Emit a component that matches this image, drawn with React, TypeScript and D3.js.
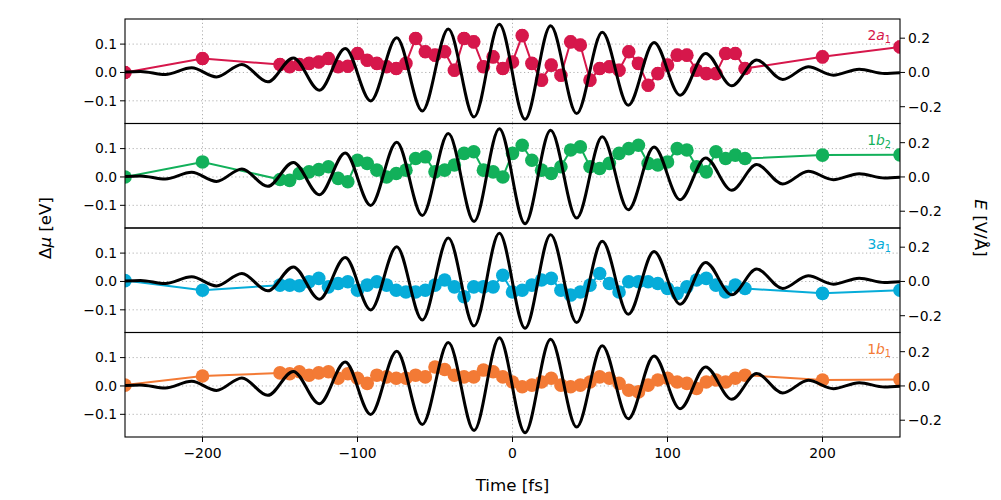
import React from "react";
import * as d3 from "d3";

// sample times [fs]: sparse wings, dense 6.25 fs grid in the pulse
const times = [
  -250, -200,
  -150, -143.75, -137.5, -131.25, -125, -118.75, -112.5, -106.25, -100, -93.75,
  -87.5, -81.25, -75, -68.75, -62.5, -56.25, -50, -43.75, -37.5, -31.25,
  -25, -18.75, -12.5, -6.25, 0, 6.25, 12.5, 18.75, 25, 31.25,
  37.5, 43.75, 50, 56.25, 62.5, 68.75, 75, 81.25, 87.5, 93.75,
  100, 106.25, 112.5, 118.75, 125, 131.25, 137.5, 143.75, 150,
  200, 250,
];

// Δμ [eV] per orbital
const mu2a1 = [
  0, 0.049,
  0.028, 0.02, 0.028, 0.032, 0.037, 0.049, 0.02, 0.022, 0.067, 0.043,
  0.032, 0.02, 0.014, 0.032, 0.12, 0.073, 0.061, 0.073, 0.008, 0.12,
  0.108, 0.02, 0.055, 0.014, 0.037, 0.13, 0.032, -0.027, 0.026, -0.01,
  0.108, 0.097, -0.027, 0.014, 0.02, 0.008, 0.073, 0.032, -0.045, -0.004,
  0.026, 0.061, 0.061, 0.008, -0.004, -0.004, 0.067, 0.067, 0.014,
  0.055, 0.09,
];
const mu1b2 = [
  0, 0.053,
  -0.009, -0.012, 0.012, 0.018, 0.026, 0.036, -0.005, -0.017, 0.059, 0.048,
  0.024, 0.0, 0.012, 0.024, 0.065, 0.071, 0.018, 0.024, 0.042, 0.083,
  0.089, 0.024, 0.018, 0.0, 0.083, 0.112, 0.059, 0.024, 0.012, 0.036,
  0.095, 0.106, 0.036, 0.03, 0.048, 0.083, 0.1, 0.112, 0.048, 0.042,
  0.053, 0.1, 0.095, 0.036, 0.018, 0.089, 0.065, 0.077, 0.065,
  0.077, 0.078,
];
const mu3a1 = [
  0.003, -0.031,
  -0.013, -0.013, -0.015, -0.001, 0.011, -0.019, -0.007, -0.001, -0.031, -0.013,
  -0.001, -0.013, -0.031, -0.037, -0.037, -0.031, -0.013, 0.005, -0.019, -0.054,
  -0.019, -0.019, -0.019, 0.022, -0.037, -0.031, -0.013, 0.005, 0.011, -0.031,
  -0.048, -0.037, -0.013, 0.028, -0.007, -0.037, -0.001, -0.001, -0.001, -0.007,
  -0.025, -0.042, -0.019, 0.005, 0.011, -0.013, -0.037, -0.013, -0.025,
  -0.042, -0.031,
];
const mu1b1 = [
  0.003, 0.035,
  0.046, 0.043, 0.05, 0.038, 0.046, 0.05, 0.027, 0.043, 0.027, 0.009,
  0.038, 0.032, 0.027, 0.027, 0.038, 0.032, 0.067, 0.058, 0.038, 0.032,
  0.032, 0.056, 0.05, 0.032, 0.014, -0.003, 0.003, 0.014, 0.027, 0.003,
  -0.003, 0.003, 0.014, 0.032, 0.027, 0.009, -0.015, -0.021, 0.003, 0.021,
  0.027, 0.014, 0.009, -0.009, 0.014, 0.021, 0.014, 0.027, 0.038,
  0.021, 0.023,
];

// electric field E [V/Å]: turning points
const fieldT = [
  -250, -240, -224, -207, -191, -174.6, -157.9, -141.4, -124.6, -107.9, -91.5,
  -74.7, -58.2, -41.4, -24.8, -8.5, 8.1, 24.6, 41.4, 57.9, 74.7, 91.3, 108.1,
  124.6, 141.4, 157.5, 174.3, 190.8, 207, 223.7, 240, 250,
];
const fieldE = [
  0.003, 0.006, -0.012, 0.027, -0.026, 0.047, -0.055, 0.085, -0.104, 0.14, -0.166,
  0.202, -0.225, 0.253, -0.26, 0.281, -0.273, 0.272, -0.24, 0.234, -0.191, 0.175,
  -0.133, 0.111, -0.078, 0.072, -0.041, 0.033, -0.016, 0.019, -0.006, -0.002,
];

const panels = [
  { num: "2", sym: "a", sub: "1", color: "#d6174b", err: 0.02, values: mu2a1 },
  { num: "1", sym: "b", sub: "2", color: "#12b05a", err: 0.014, values: mu1b2 },
  { num: "3", sym: "a", sub: "1", color: "#06acd9", err: 0.014, values: mu3a1 },
  { num: "1", sym: "b", sub: "1", color: "#f37a35", err: 0.014, values: mu1b1 },
];

const xTicks = [-200, -100, 0, 100, 200];
const muTicks = [-0.1, 0, 0.1];
const eTicks = [-0.2, 0, 0.2];

const W = 1001;
const H = 500;
const left = 125;
const right = 900;
const top0 = 19;
const ph = 104.5;
const font = "DejaVu Sans, sans-serif";

const fmt = (v: number, d: number) => v.toFixed(d).replace("-", "\u2212");

export default function App() {
  const x = d3.scaleLinear().domain([-250, 250]).range([left, right]);

  return (
    <div style={{ position: "absolute", left: 0, top: 0 }}>
      <svg width={W} height={H} style={{ display: "block", background: "#fff" }}>
        <defs>
          {panels.map((p, i) => (
            <clipPath id={`clip${i}`} key={i}>
              <rect x={left} y={top0 + i * ph} width={right - left} height={ph} />
            </clipPath>
          ))}
        </defs>
        {panels.map((p, i) => {
          const top = top0 + i * ph;
          const bottom = top + ph;
          const y = d3.scaleLinear().domain([-0.18, 0.1885]).range([bottom, top]);
          const yE = d3.scaleLinear().domain([-0.298, 0.312]).range([bottom, top]);
          const line = d3
            .line<number>()
            .x((d, j) => x(times[j]))
            .y((d) => y(d));
          const field = d3
            .line<number>()
            .x((d, j) => x(fieldT[j]))
            .y((d) => yE(d))
            .curve(d3.curveMonotoneX);
          return (
            <g key={i}>
              {/* grid */}
              <g stroke="#b0b0b0" strokeWidth={1} strokeDasharray="1.2,2.6">
                {xTicks.map((t) => (
                  <line key={t} x1={x(t)} x2={x(t)} y1={top} y2={bottom} />
                ))}
                {muTicks.map((t) => (
                  <line key={t} x1={left} x2={right} y1={y(t)} y2={y(t)} />
                ))}
              </g>
              <g clipPath={`url(#clip${i})`}>
                <path d={line(p.values) || ""} fill="none" stroke={p.color} strokeWidth={2} />
                {p.values.map((v, j) => (
                  <g key={j} stroke={p.color} strokeWidth={1.3}>
                    <line x1={x(times[j])} x2={x(times[j])} y1={y(v - p.err)} y2={y(v + p.err)} />
                    <line x1={x(times[j]) - 3} x2={x(times[j]) + 3} y1={y(v - p.err)} y2={y(v - p.err)} />
                    <line x1={x(times[j]) - 3} x2={x(times[j]) + 3} y1={y(v + p.err)} y2={y(v + p.err)} />
                  </g>
                ))}
                {p.values.map((v, j) => (
                  <circle key={j} cx={x(times[j])} cy={y(v)} r={6.8} fill={p.color} />
                ))}
                <path d={field(fieldE) || ""} fill="none" stroke="#000" strokeWidth={3} />
              </g>
              {/* orbital label */}
              <text x={891} y={top + 21} textAnchor="end" fill={p.color} fontFamily={font} fontSize={13.9}>
                {p.num}
                <tspan fontStyle="italic">{p.sym}</tspan>
                <tspan fontSize={9.7} dy={3}>{p.sub}</tspan>
              </text>
              {/* left axis */}
              {muTicks.map((t) => (
                <g key={t}>
                  <line x1={left - 5} x2={left} y1={y(t)} y2={y(t)} stroke="#000" strokeWidth={1} />
                  <text x={left - 8} y={y(t)} dy="0.35em" textAnchor="end" fontFamily={font} fontSize={13.9}>
                    {fmt(t, 1)}
                  </text>
                </g>
              ))}
              {/* right axis */}
              {eTicks.map((t) => (
                <g key={t}>
                  <line x1={right} x2={right + 5} y1={yE(t)} y2={yE(t)} stroke="#000" strokeWidth={1} />
                  <text x={right + 8} y={yE(t)} dy="0.35em" fontFamily={font} fontSize={13.9}>
                    {fmt(t, 1)}
                  </text>
                </g>
              ))}
              <rect x={left} y={top} width={right - left} height={ph} fill="none" stroke="#000" strokeWidth={1.1} />
            </g>
          );
        })}
        {/* bottom axis */}
        {xTicks.map((t) => (
          <g key={t}>
            <line x1={x(t)} x2={x(t)} y1={top0 + 4 * ph} y2={top0 + 4 * ph + 5} stroke="#000" strokeWidth={1} />
            <text x={x(t)} y={top0 + 4 * ph + 21} textAnchor="middle" fontFamily={font} fontSize={13.9}>
              {t < 0 ? "\u2212" + Math.abs(t) : t}
            </text>
          </g>
        ))}
        <text x={(left + right) / 2} y={491} textAnchor="middle" fontFamily={font} fontSize={16.7}>
          Time [fs]
        </text>
        <text transform="translate(51,228) rotate(-90)" textAnchor="middle" fontFamily={font} fontSize={16.7}>
          {"\u0394"}
          <tspan fontStyle="italic">{"\u03bc"}</tspan> [eV]
        </text>
        <text transform="translate(975,228) rotate(90)" textAnchor="middle" fontFamily={font} fontSize={16.7}>
          <tspan fontStyle="italic">E</tspan> [V/{"\u00c5"}]
        </text>
      </svg>
    </div>
  );
}
